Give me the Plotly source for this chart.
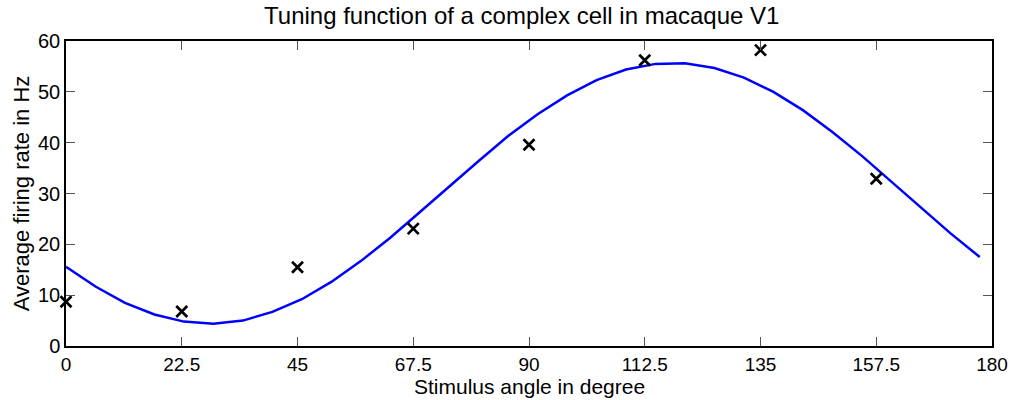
import plotly.graph_objects as go

# Fitted tuning curve (sampled every 0.1 rad, shown in degrees)
curve_angle = [0, 5.73, 11.46, 17.19, 22.92, 28.65, 34.38, 40.11, 45.84, 51.57,
               57.30, 63.03, 68.75, 74.48, 80.21, 85.94, 91.67, 97.40, 103.13, 108.86,
               114.59, 120.32, 126.05, 131.78, 137.51, 143.24, 148.97, 154.70, 160.43,
               166.16, 171.89, 177.62]
curve_rate = [15.6, 11.7, 8.5, 6.2, 4.8, 4.4, 5.0, 6.7, 9.2, 12.6,
              16.7, 21.3, 26.3, 31.4, 36.4, 41.3, 45.6, 49.3, 52.3, 54.4,
              55.5, 55.6, 54.7, 52.8, 50.0, 46.4, 42.1, 37.4, 32.3,
              27.2, 22.2, 17.5]

# Measured firing rates
meas_angle = [0, 22.5, 45, 67.5, 90, 112.5, 135, 157.5]
meas_rate = [8.7, 6.8, 15.5, 23.1, 39.6, 56.2, 58.2, 32.9]

x_ticks = [0, 22.5, 45, 67.5, 90, 112.5, 135, 157.5, 180]
x_tick_text = ["0", "22.5", "45", "67.5", "90", "112.5", "135", "157.5", "180"]
y_ticks = [0, 10, 20, 30, 40, 50, 60]

FONT = "Liberation Sans, Arial, Helvetica, sans-serif"

fig = go.Figure()
fig.add_trace(go.Scatter(x=curve_angle, y=curve_rate, mode="lines",
                         line=dict(color="#0000FF", width=2.5),
                         showlegend=False, cliponaxis=False))
fig.add_trace(go.Scatter(x=meas_angle, y=meas_rate, mode="markers",
                         marker=dict(symbol="x-thin", size=11, color="black",
                                     line=dict(color="black", width=2.7)),
                         showlegend=False, cliponaxis=False))

fig.update_layout(
    width=1019, height=400,
    margin=dict(l=66, r=27, t=41, b=54),
    paper_bgcolor="white", plot_bgcolor="white",
    font=dict(family=FONT, color="black", size=20),
    title=dict(text="Tuning function of a complex cell in macaque V1",
               x=0.512, xanchor="center", xref="container",
               y=0.962, yanchor="middle", yref="container",
               font=dict(size=24, color="black", family=FONT)),
    annotations=[dict(text="Stimulus angle in degree", xref="paper", yref="paper",
                      x=0.5, y=-0.134, xanchor="center", yanchor="middle",
                      showarrow=False, font=dict(size=21, family=FONT, color="black"))],
)
fig.update_xaxes(range=[0, 180], tickmode="array", tickvals=x_ticks, ticktext=x_tick_text,
                 ticks="inside", ticklen=9, tickwidth=1, tickcolor="#555555",
                 showline=True, linecolor="black", linewidth=1.5, mirror="ticks",
                 showgrid=False, zeroline=False,
                 tickfont=dict(size=19, family=FONT, color="black"))
fig.update_yaxes(range=[0, 60], tickmode="array", tickvals=y_ticks,
                 ticks="inside", ticklen=9, tickwidth=1, tickcolor="#555555",
                 showline=True, linecolor="black", linewidth=1.5, mirror="ticks",
                 showgrid=False, zeroline=False,
                 tickfont=dict(size=20, family=FONT, color="black"),
                 title=dict(text="Average firing rate in Hz", standoff=2,
                            font=dict(size=22, family=FONT, color="black")))

fig.write_html("out.html")
